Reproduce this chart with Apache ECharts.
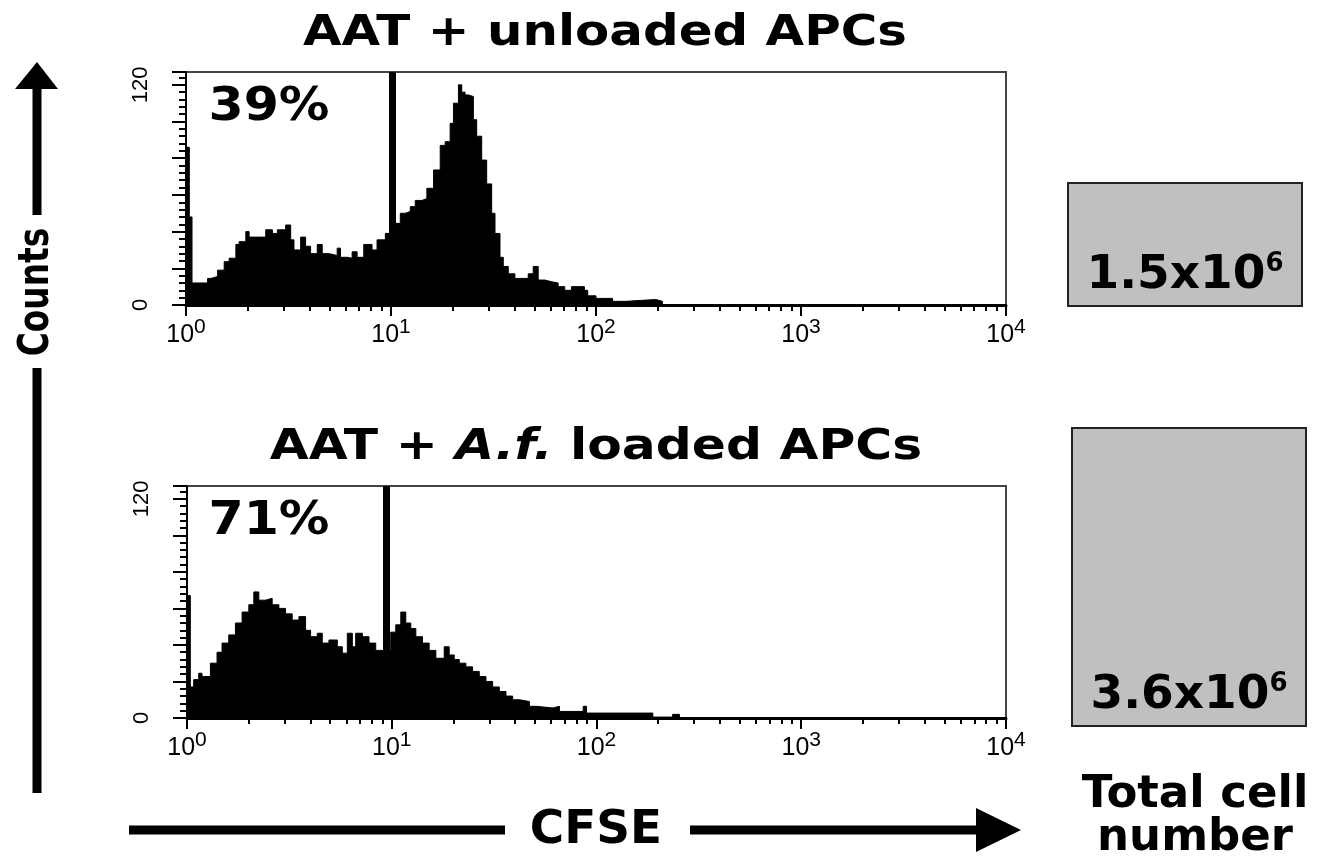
<!DOCTYPE html>
<html>
<head>
<meta charset="utf-8">
<script src="https://cdn.jsdelivr.net/npm/echarts@6/dist/echarts.min.js"></script>
<style>
html,body{margin:0;padding:0;background:#fff;}
#chart{width:1321px;height:861px;}
</style>
</head>
<body>
<div id="chart"></div>
<script>
// ---------- data ----------
const panelTitles = ['AAT + unloaded APCs', 'AAT + A.f. loaded APCs'];
const percentLabels = ['39%', '71%'];
const xTickValues = [1, 10, 100, 1000, 10000];
const xTickExponents = ['0', '1', '2', '3', '4'];
const xMinorTickValues = [2,3,4,5,6,7,8,9,20,30,40,50,60,70,80,90,200,300,400,500,600,700,800,900,2000,3000,4000,5000,6000,7000,8000,9000];
const yTickLabels = [0, 120];
const gateCfse = [10.1, 9.4];

const topCfse = [1.0, 1.038, 1.070, 1.274, 1.323, 1.426, 1.536, 1.624, 1.751, 1.817, 1.958, 2.032, 2.449, 2.639, 2.791, 3.063, 3.240, 3.363, 3.624, 3.832, 4.053, 4.367, 4.618, 4.977, 5.463, 5.671, 6.109, 6.462, 6.834, 7.364, 8.08, 8.55, 9.385, 10.49, 11.10, 11.74, 12.42, 13.13, 14.15, 14.96, 16.13, 17.38, 18.37, 19.43, 20.17, 21.33, 22.14, 22.98, 23.85, 25.22, 26.18, 27.70, 29.29, 30.98, 32.16, 34.01, 35.30, 37.34, 40.22, 46.71, 49.40, 52.24, 56.28, 60.65, 65.35, 70.41, 75.88, 87.8, 91.1, 100, 120.5, 140, 195.5, 210.8, 10000];
const topCounts = [86, 48, 12, 14.5, 15.5, 19, 23.6, 25.5, 33, 34.5, 40, 37, 41, 39, 41, 43.6, 35.5, 30, 37, 32, 28, 33, 28, 27, 31, 26, 25.5, 29, 26, 33, 30, 35.5, 39, 44.5, 50, 51, 53.6, 57, 58, 63.6, 73.6, 87, 89, 99, 110, 120, 116, 114.5, 113.6, 101, 92, 79, 66, 50, 39, 26, 21, 17, 14.5, 17, 21, 13.6, 12.7, 12, 10, 8, 10, 8, 5, 3.6, 2, 3, 2, 0, 0];

const bottomCfse = [1.0, 1.038, 1.078, 1.141, 1.184, 1.301, 1.402, 1.483, 1.599, 1.724, 1.858, 2.004, 2.120, 2.243, 2.418, 2.606, 2.810, 3.029, 3.265, 3.520, 3.794, 4.014, 4.327, 4.578, 4.935, 5.422, 5.736, 6.067, 6.419, 6.665, 7.185, 7.745, 8.350, 9.888, 10.46, 11.07, 11.71, 12.39, 13.11, 14.13, 15.23, 16.42, 18.04, 19.08, 20.19, 21.36, 23.02, 24.82, 26.76, 28.84, 31.09, 33.52, 36.14, 38.96, 42.01, 47.00, 50.67, 61.13, 65.91, 86.1, 89.4, 188.4, 235.5, 254.1, 10000];
const bottomCounts = [67, 17, 21, 24.5, 22.7, 30, 36, 41, 45.5, 52, 58, 62, 69, 64.5, 65.5, 62, 60, 57, 53.6, 55.5, 48, 44.5, 46.4, 41, 42.7, 39, 35.5, 46.4, 39, 46.4, 44.5, 41, 37, 47, 51, 58, 52, 49, 44.5, 41, 37, 32.7, 39, 34.5, 32, 30, 28, 25.5, 22.7, 20, 17, 14.5, 12, 10, 9, 6.4, 5.5, 6.4, 3.6, 6.4, 2.7, 0.5, 2, 0, 0];

const totalCategories = ['AAT + unloaded APCs', 'AAT + A.f. loaded APCs'];
const totalCells = [1.5, 3.6];   // x10^6
const totalExponent = '6';

// ---------- chart ----------
const chart = echarts.init(document.getElementById('chart'));
const BOLD = '"DejaVu Sans", "Noto Sans", sans-serif';
const LAB = '"Liberation Sans Narrow", "Liberation Sans", Arial, sans-serif';

const histGrids = [
  {left: 186, top: 72, width: 820, height: 233},
  {left: 187, top: 486, width: 819, height: 232}
];
const barGrids = [
  {left: 1067, top: 7, width: 236, height: 300},
  {left: 1071, top: 427, width: 236, height: 300}
];

const grids = [];
histGrids.forEach(g => grids.push(Object.assign({show: true, borderColor: '#444', borderWidth: 2, backgroundColor: '#fff'}, g)));
barGrids.forEach(g => grids.push(Object.assign({show: false}, g)));

const xAxes = [], yAxes = [], series = [];
[0, 1].forEach(i => {
  xAxes.push({
    type: 'log', logBase: 10, gridIndex: i, min: 1, max: 10000,
    axisLine: {show: true, onZero: false, lineStyle: {color: '#000', width: 3}},
    axisTick: {show: true, inside: false, length: 11, lineStyle: {color: '#000', width: 2}},
    splitLine: {show: false},
    axisLabel: {
      show: true, margin: 12, color: '#000',
      formatter: v => {
        const k = xTickValues.indexOf(v);
        return k < 0 ? '' : '{b|10}{s|' + xTickExponents[k] + '}';
      },
      rich: {
        b: {fontFamily: LAB, fontSize: 25, color: '#000'},
        s: {fontFamily: LAB, fontSize: 21, color: '#000', padding: [0, 0, 15, 0]}
      }
    }
  });
  xAxes.push({
    type: 'log', logBase: 10, gridIndex: i, min: 1, max: 10000, position: 'bottom',
    axisLine: {show: false},
    axisTick: {show: true, inside: false, length: 6, customValues: xMinorTickValues, lineStyle: {color: '#000', width: 2}},
    axisLabel: {show: false},
    splitLine: {show: false}
  });
  yAxes.push({
    type: 'value', gridIndex: i, min: 0, max: 127, interval: 20,
    axisLine: {show: true, lineStyle: {color: '#000', width: 2}},
    axisTick: {show: true, inside: false, length: 14, lineStyle: {color: '#000', width: 2}},
    minorTick: {show: true, splitNumber: 5, length: 7, lineStyle: {color: '#000', width: 2}},
    splitLine: {show: false},
    axisLabel: {
      show: true, rotate: 90, margin: 34, color: '#000', fontFamily: LAB, fontSize: 22,
      formatter: v => (yTickLabels.indexOf(v) >= 0 ? String(v) : '')
    }
  });
});
// bar grids axes
[0, 1].forEach(i => {
  xAxes.push({type: 'category', gridIndex: 2 + i, data: [totalCategories[i]], show: false});
  yAxes.push({type: 'value', gridIndex: 2 + i, min: 0, max: 3.6, show: false});
});

const hists = [[topCfse, topCounts], [bottomCfse, bottomCounts]];
hists.forEach((h, i) => {
  series.push({
    type: 'line', xAxisIndex: 2 * i, yAxisIndex: i, step: 'end', symbol: 'none',
    data: h[0].map((x, k) => [x, h[1][k]]),
    lineStyle: {color: '#000', width: 1},
    areaStyle: {color: '#000', opacity: 1},
    silent: true, animation: false, z: 2,
    markLine: {
      silent: true, symbol: 'none', animation: false,
      label: {show: false},
      lineStyle: {color: '#000', width: 7, type: 'solid'},
      data: [{xAxis: gateCfse[i]}]
    }
  });
});
[0, 1].forEach(i => {
  series.push({
    type: 'bar', xAxisIndex: 4 + i, yAxisIndex: 2 + i,
    data: [totalCells[i]], barWidth: '100%', animation: false,
    itemStyle: {color: '#c0c0c0', borderColor: '#222', borderWidth: 2},
    label: {
      show: true, position: 'insideBottom', distance: 6,
      formatter: p => '{m|' + p.value.toFixed(1) + 'x10}{s|' + totalExponent + '}',
      rich: {
        m: {fontFamily: BOLD, fontWeight: 'bold', fontSize: 47, color: '#000'},
        s: {fontFamily: BOLD, fontWeight: 'bold', fontSize: 26, color: '#000', padding: [0, 0, 24, 0]}
      }
    }
  });
});

const txt = (text, x, y, size, opts) => Object.assign({
  type: 'text', x: x, y: y,
  style: {text: text, font: 'bold ' + size + 'px ' + BOLD, fill: '#000', align: 'center', verticalAlign: 'middle'}
}, opts || {});

const graphic = [
  txt(panelTitles[0], 605, 34, 43, {scaleX: 1.16}),
  {
    type: 'text', x: 596, y: 448, scaleX: 1.17,
    style: {
      text: '{n|AAT + }{i|A.f.}{n| loaded APCs}', align: 'center', verticalAlign: 'middle',
      rich: {
        n: {font: 'bold 43px ' + BOLD, fill: '#000'},
        i: {font: 'italic bold 43px ' + BOLD, fill: '#000'}
      }
    }
  },
  txt(percentLabels[0], 269, 108, 46, {scaleX: 1.1}),
  txt(percentLabels[1], 269, 522, 46, {scaleX: 1.1}),
  txt('Total cell', 1195, 795, 45),
  txt('number', 1195, 838, 45),
  // Counts arrow
  {type: 'polygon', shape: {points: [[15, 89], [58, 89], [37, 62]]}, style: {fill: '#000'}},
  {type: 'line', shape: {x1: 37, y1: 86, x2: 37, y2: 215}, style: {stroke: '#000', lineWidth: 9}},
  {type: 'line', shape: {x1: 37, y1: 368, x2: 37, y2: 793}, style: {stroke: '#000', lineWidth: 9}},
  txt('Counts', 37, 292, 42, {rotation: Math.PI / 2, scaleX: 0.78}),
  // CFSE arrow
  {type: 'line', shape: {x1: 129, y1: 830, x2: 505, y2: 830}, style: {stroke: '#000', lineWidth: 9}},
  {type: 'line', shape: {x1: 690, y1: 830, x2: 980, y2: 830}, style: {stroke: '#000', lineWidth: 9}},
  {type: 'polygon', shape: {points: [[976, 808], [976, 852], [1021, 830]]}, style: {fill: '#000'}},
  txt('CFSE', 596, 831, 46, {scaleX: 1.02})
];

chart.setOption({
  animation: false,
  backgroundColor: '#fff',
  grid: grids,
  xAxis: xAxes,
  yAxis: yAxes,
  series: series,
  graphic: graphic
});
</script>
</body>
</html>
